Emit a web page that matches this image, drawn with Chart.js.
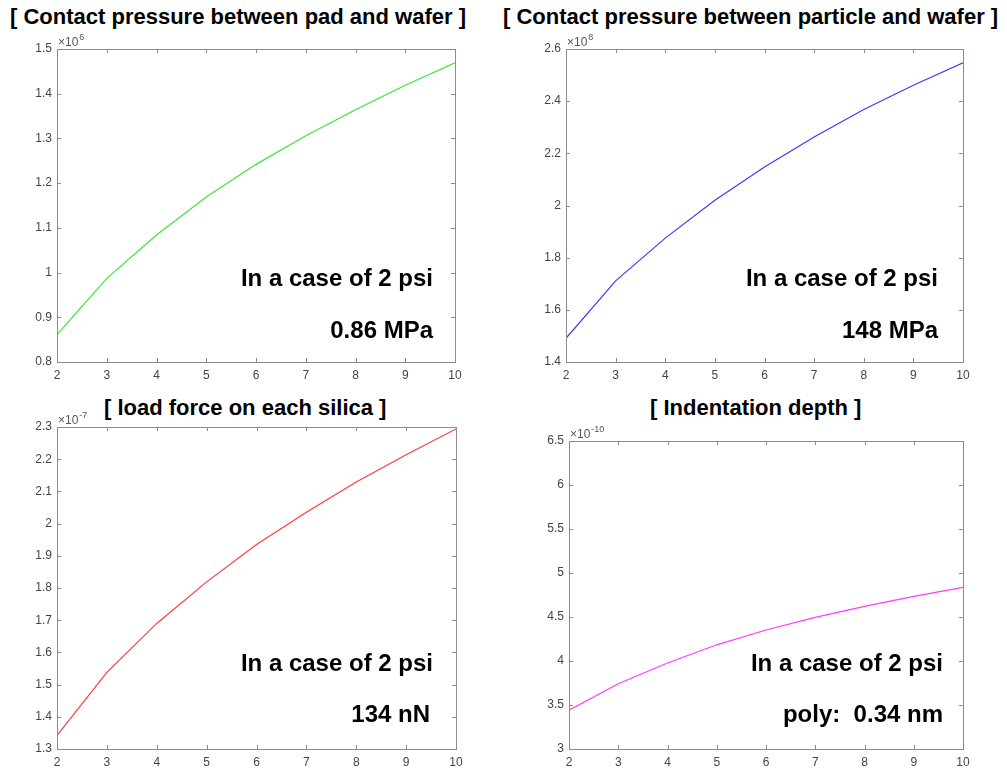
<!DOCTYPE html>
<html>
<head>
<meta charset="utf-8">
<script src="https://cdn.jsdelivr.net/npm/chart.js@4.4.1/dist/chart.umd.min.js"></script>
<style>
  body { margin: 0; background: #fff; width: 1007px; height: 773px; position: relative; overflow: hidden; font-family: Arial, "Liberation Sans", sans-serif; }
  .box { position: absolute; }
  .title { position: absolute; font-weight: bold; font-size: 22px; color: #000; white-space: pre; line-height: 24px; }
  .note { position: absolute; font-weight: bold; font-size: 24px; color: #000; white-space: pre; line-height: 28px; text-align: right; }
</style>
</head>
<body>

<div class="title" style="left:10px; top:5px;">[ Contact pressure between pad and wafer ]</div>
<div class="title" style="left:503px; top:5px;">[ Contact pressure between particle and wafer ]</div>
<div class="title" style="left:104px; top:396px;">[ load force on each silica ]</div>
<div class="title" style="left:650px; top:396px;">[ Indentation depth ]</div>

<div class="box" id="b1"><canvas id="c1"></canvas></div>
<div class="box" id="b2"><canvas id="c2"></canvas></div>
<div class="box" id="b3"><canvas id="c3"></canvas></div>
<div class="box" id="b4"><canvas id="c4"></canvas></div>

<div class="note" style="right:574px; top:264px;">In a case of 2 psi</div>
<div class="note" style="right:574px; top:316px;">0.86 MPa</div>
<div class="note" style="right:69px; top:264px;">In a case of 2 psi</div>
<div class="note" style="right:69px; top:316px;">148 MPa</div>
<div class="note" style="right:574px; top:649px;">In a case of 2 psi</div>
<div class="note" style="right:577px; top:700px;">134 nN</div>
<div class="note" style="right:64px; top:649px;">In a case of 2 psi</div>
<div class="note" style="right:64px; top:700px;">poly:  0.34 nm</div>

<script>
// x: applied pressure (psi)
const xPsi = [2, 3, 4, 5, 6, 7, 8, 9, 10];

// series values (mantissas, see exponents below)
const padWafer = [0.861, 0.987, 1.084, 1.169, 1.242, 1.306, 1.364, 1.419, 1.469];      // x10^6
const particleWafer = [1.491, 1.711, 1.875, 2.020, 2.148, 2.263, 2.368, 2.461, 2.547]; // x10^8
const loadForce = [1.342, 1.538, 1.690, 1.819, 1.935, 2.035, 2.129, 2.214, 2.294];     // x10^-7
const indentDepth = [3.441, 3.741, 3.978, 4.184, 4.352, 4.495, 4.620, 4.735, 4.836];   // x10^-10

// y axis ranges [min, max, step] and exponents
const yPad = [0.8, 1.5, 0.1];
const yParticle = [1.4, 2.6, 0.2];
const yLoad = [1.3, 2.3, 0.1];
const yIndent = [3, 6.5, 0.5];
const exps = ["6", "8", "-7", "-10"];

const AXIS = "#8c8c8c";
const PAD_L = 57, PAD_T = 22, PAD_R = 15, PAD_B = 24;

// matlab style box with inward ticks and the x10^n label
const matlabBox = {
  id: "matlabBox",
  afterDraw(chart, args, opts) {
    const { ctx, chartArea: a, scales } = chart;
    const x = scales.x, y = scales.y;
    ctx.save();
    ctx.strokeStyle = AXIS;
    ctx.lineWidth = 1;
    ctx.strokeRect(Math.round(a.left) + 0.5, Math.round(a.top) + 0.5,
      Math.round(a.right - a.left), Math.round(a.bottom - a.top));
    ctx.beginPath();
    x.ticks.forEach(t => {
      const px = Math.round(x.getPixelForValue(t.value)) + 0.5;
      ctx.moveTo(px, a.bottom); ctx.lineTo(px, a.bottom - 4);
      ctx.moveTo(px, a.top); ctx.lineTo(px, a.top + 4);
    });
    y.ticks.forEach(t => {
      const py = Math.round(y.getPixelForValue(t.value)) + 0.5;
      ctx.moveTo(a.left, py); ctx.lineTo(a.left + 4, py);
      ctx.moveTo(a.right, py); ctx.lineTo(a.right - 4, py);
    });
    ctx.stroke();
    // exponent
    ctx.fillStyle = "#555";
    ctx.textBaseline = "alphabetic";
    ctx.font = "12px Arial, 'Liberation Sans'";
    const base = "\u00d710";
    ctx.fillText(base, a.left + 1, a.top - 3);
    const w = ctx.measureText(base).width;
    ctx.font = "9px Arial, 'Liberation Sans'";
    ctx.fillText(opts.exp, a.left + 1 + w + 1, a.top - 9);
    ctx.restore();
  }
};

function makeChart(id, boxId, plot, values, yr, color, exp) {
  const box = document.getElementById(boxId);
  box.style.left = (plot.left - PAD_L) + "px";
  box.style.top = (plot.top - PAD_T) + "px";
  box.style.width = (plot.right - plot.left + PAD_L + PAD_R) + "px";
  box.style.height = (plot.bottom - plot.top + PAD_T + PAD_B) + "px";

  new Chart(document.getElementById(id), {
    type: "line",
    data: {
      datasets: [
        {
          data: xPsi.map((x, i) => ({ x: x, y: values[i] })),
          borderColor: color,
          borderWidth: 1.2,
          pointRadius: 0,
          tension: 0,
          fill: false
        }
      ]
    },
    options: {
      responsive: true,
      maintainAspectRatio: false,
      animation: false,
      layout: { padding: { top: PAD_T, right: PAD_R, left: 0, bottom: 0 } },
      plugins: {
        legend: { display: false },
        tooltip: { enabled: false },
        matlabBox: { exp: exp }
      },
      scales: {
        x: {
          type: "linear",
          min: 2,
          max: 10,
          grid: { display: false, drawTicks: false },
          border: { display: false },
          afterFit: s => { s.height = PAD_B; },
          ticks: {
            stepSize: 1,
            padding: 6,
            color: "#444",
            font: { family: "Arial, 'Liberation Sans'", size: 12 },
            maxRotation: 0
          }
        },
        y: {
          min: yr[0],
          max: yr[1],
          grid: { display: false, drawTicks: false },
          border: { display: false },
          afterFit: s => { s.width = PAD_L; },
          ticks: {
            stepSize: yr[2],
            padding: 5,
            color: "#444",
            font: { family: "Arial, 'Liberation Sans'", size: 12 },
            callback: v => String(+v.toFixed(2))
          }
        }
      }
    },
    plugins: [matlabBox]
  });
}

makeChart("c1", "b1", { left: 57, top: 49, right: 455, bottom: 362 }, padWafer, yPad, "#3be63b", exps[0]);
makeChart("c2", "b2", { left: 566, top: 49, right: 963, bottom: 362 }, particleWafer, yParticle, "#3b3bff", exps[1]);
makeChart("c3", "b3", { left: 57, top: 427, right: 456, bottom: 749 }, loadForce, yLoad, "#ff3b3b", exps[2]);
makeChart("c4", "b4", { left: 569, top: 441, right: 963, bottom: 749 }, indentDepth, yIndent, "#ff3bff", exps[3]);
</script>
</body>
</html>
